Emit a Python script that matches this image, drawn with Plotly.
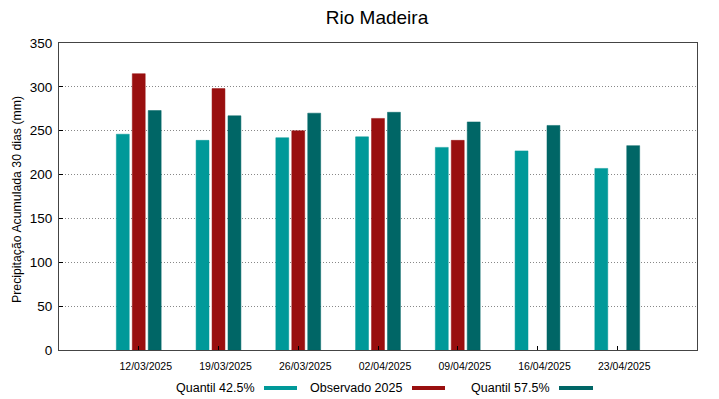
import plotly.graph_objects as go

dates = ["12/03/2025", "19/03/2025", "26/03/2025", "02/04/2025", "09/04/2025", "16/04/2025", "23/04/2025"]
q425 = [246, 239, 242, 243, 231, 227, 207]
obs2025 = [315, 298, 250, 264, 239, None, None]
q575 = [273, 267, 270, 271, 260, 256, 233]

names = ["Quantil 42.5%", "Observado 2025", "Quantil 57.5%"]
colors = ["#009999", "#990f0f", "#006666"]
ytitle = "Precipitação Acumulada 30 dias (mm)"

idx = list(range(len(dates)))
fig = go.Figure()
for name, vals, col in zip(names, [q425, obs2025, q575], colors):
    fig.add_trace(go.Bar(x=idx, y=vals, name=name, marker=dict(color=col, line=dict(width=0.5, color=col)),
                         showlegend=False))

font = "Liberation Sans, Arial, sans-serif"
# page body has an 8px margin: figure is drawn 8px right/down of window origin
FW, FH = 711, 391
fig.update_layout(
    width=FW, height=FH,
    margin=dict(l=51, r=22, t=35, b=49, autoexpand=False),
    paper_bgcolor="white", plot_bgcolor="white",
    barmode="group", bargap=0.4, bargroupgap=0.19,
    font=dict(family=font, color="black"),
    title=dict(text="Rio Madeira", x=(377 - 8) / FW, xanchor="center", y=1 - (17 - 8) / FH, yanchor="middle",
               font=dict(size=19, family=font, color="black")),
    xaxis=dict(range=[-1, 7], tickvals=idx, ticktext=dates, ticks="inside", ticklen=4, tickcolor="black",
               showline=True, linecolor="#444", linewidth=1, mirror=True, showgrid=False, automargin=False,
               tickfont=dict(size=10.5), zeroline=False, ticklabelshift=7, ticklabelstandoff=6),
    yaxis=dict(range=[0, 350], dtick=50, ticks="inside", ticklen=4, tickcolor="black",
               showline=True, linecolor="#444", linewidth=1, mirror=True, automargin=False,
               showgrid=True, gridcolor="#888", griddash="1px,2px", gridwidth=1,
               tickfont=dict(size=13.5), zeroline=False, ticklabelstandoff=3),
)

pw, ph = 697 - 59, 350 - 43
def px(x):
    return (x - 59) / pw
def py(y):
    return (350 - y) / ph

fig.add_annotation(x=px(17), y=py(200), xref="paper", yref="paper", text=ytitle, showarrow=False,
                   textangle=-90, xanchor="center", yanchor="middle", font=dict(size=12.3, family=font, color="black"))

leg = [(257, 264, 297), (404, 412, 445), (552, 559, 593)]
for (tx, x0, x1), name, col in zip(leg, names, colors):
    fig.add_annotation(x=px(tx), y=py(388), xref="paper", yref="paper", text=name, showarrow=False,
                       xanchor="right", yanchor="middle", font=dict(size=12.5, family=font, color="black"))
    fig.add_shape(type="rect", xref="paper", yref="paper", x0=px(x0), x1=px(x1), y0=py(390), y1=py(386),
                  fillcolor=col, line=dict(width=0))

fig.write_html("out.html")
